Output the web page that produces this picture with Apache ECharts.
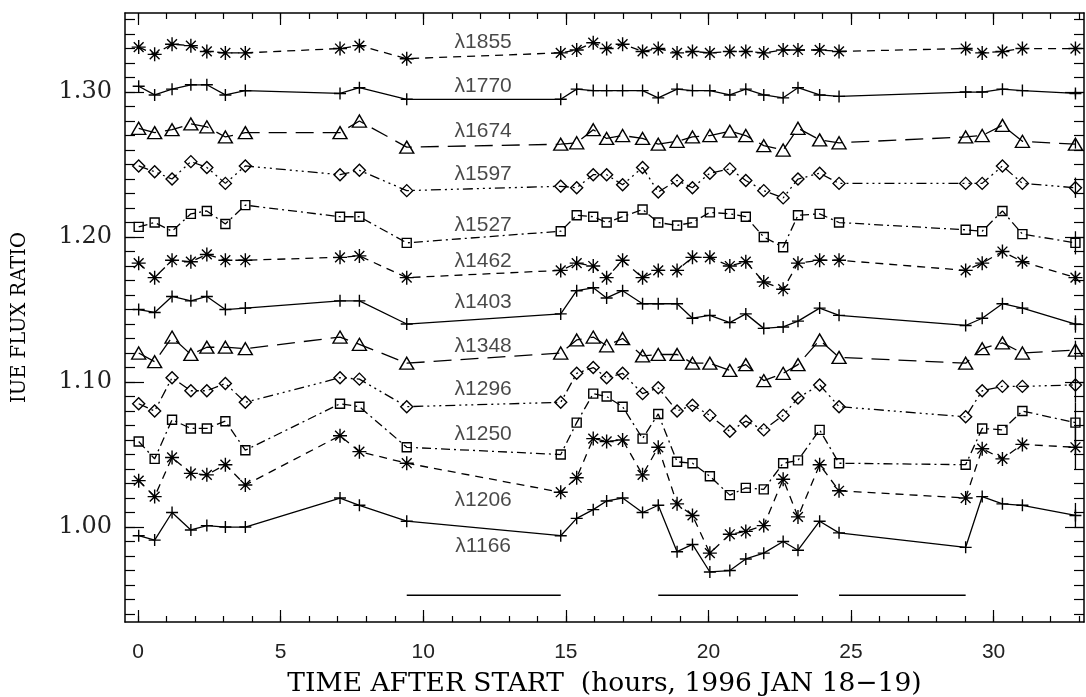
<!DOCTYPE html>
<html>
<head>
<meta charset="utf-8">
<script src="https://cdn.jsdelivr.net/npm/echarts@6/dist/echarts.min.js"></script>
<style>
html,body{margin:0;padding:0;background:#fff;}
#chart{width:1086px;height:697px;}
</style>
</head>
<body>
<div id="chart"></div>
<script>
// ---- DATA ----
const times = [0.02, 0.58, 1.19, 1.85, 2.41, 3.06, 3.76, 7.08, 7.76, 9.42,
  14.82, 15.38, 15.96, 16.43, 16.99, 17.69, 18.24, 18.90, 19.44, 20.05, 20.75, 21.31, 21.94,
  22.62, 23.14, 23.90, 24.58, 29.02, 29.60, 30.31, 31.01, 32.87];

const f1855 = [1.331, 1.326, 1.333, 1.332, 1.328, 1.327, 1.327, 1.330, 1.332, 1.323, 1.327, 1.329, 1.334, 1.330, 1.333, 1.328, 1.330, 1.327, 1.328, 1.327, 1.328, 1.328, 1.327, 1.329, 1.329, 1.329, 1.328, 1.330, 1.327, 1.328, 1.330, 1.330];
const f1770 = [1.304, 1.298, 1.302, 1.305, 1.305, 1.298, 1.301, 1.299, 1.303, 1.295, 1.295, 1.302, 1.301, 1.301, 1.301, 1.301, 1.296, 1.302, 1.301, 1.301, 1.298, 1.302, 1.298, 1.296, 1.303, 1.298, 1.297, 1.300, 1.300, 1.302, 1.301, 1.299];
const f1674 = [1.275, 1.272, 1.274, 1.278, 1.276, 1.269, 1.272, 1.272, 1.280, 1.262, 1.264, 1.265, 1.274, 1.268, 1.270, 1.268, 1.264, 1.266, 1.269, 1.270, 1.273, 1.270, 1.263, 1.260, 1.275, 1.267, 1.265, 1.269, 1.270, 1.277, 1.266, 1.264];
const f1597 = [1.249, 1.245, 1.240, 1.252, 1.248, 1.237, 1.249, 1.243, 1.246, 1.232, 1.235, 1.234, 1.243, 1.243, 1.236, 1.248, 1.231, 1.239, 1.234, 1.244, 1.247, 1.239, 1.232, 1.227, 1.240, 1.244, 1.237, 1.237, 1.237, 1.249, 1.237, 1.234];
const f1527 = [1.207, 1.210, 1.204, 1.216, 1.218, 1.209, 1.222, 1.214, 1.214, 1.196, 1.204, 1.215, 1.214, 1.210, 1.214, 1.219, 1.210, 1.208, 1.210, 1.217, 1.216, 1.214, 1.200, 1.193, 1.215, 1.216, 1.210, 1.205, 1.204, 1.218, 1.202, 1.196];
const f1462 = [1.182, 1.172, 1.184, 1.183, 1.188, 1.184, 1.184, 1.186, 1.187, 1.172, 1.177, 1.182, 1.180, 1.172, 1.184, 1.172, 1.177, 1.177, 1.186, 1.186, 1.180, 1.183, 1.169, 1.164, 1.182, 1.184, 1.184, 1.177, 1.182, 1.190, 1.183, 1.172];
const f1403 = [1.150, 1.148, 1.159, 1.156, 1.159, 1.150, 1.151, 1.156, 1.156, 1.140, 1.147, 1.163, 1.165, 1.158, 1.163, 1.154, 1.154, 1.154, 1.144, 1.146, 1.141, 1.147, 1.137, 1.138, 1.142, 1.151, 1.146, 1.139, 1.144, 1.154, 1.151, 1.140];
const f1348 = [1.120, 1.114, 1.131, 1.119, 1.124, 1.124, 1.123, 1.131, 1.126, 1.113, 1.120, 1.129, 1.131, 1.125, 1.130, 1.118, 1.119, 1.119, 1.113, 1.113, 1.108, 1.112, 1.101, 1.106, 1.112, 1.129, 1.117, 1.113, 1.123, 1.127, 1.120, 1.122];
const f1296 = [1.085, 1.080, 1.103, 1.094, 1.094, 1.099, 1.086, 1.103, 1.102, 1.083, 1.086, 1.106, 1.110, 1.103, 1.106, 1.092, 1.096, 1.080, 1.084, 1.077, 1.066, 1.073, 1.067, 1.077, 1.089, 1.098, 1.083, 1.076, 1.094, 1.097, 1.097, 1.098];
const f1250 = [1.059, 1.047, 1.074, 1.068, 1.068, 1.073, 1.053, 1.085, 1.083, 1.055, 1.050, 1.072, 1.092, 1.090, 1.083, 1.061, 1.078, 1.045, 1.044, 1.035, 1.022, 1.027, 1.026, 1.044, 1.046, 1.067, 1.044, 1.043, 1.068, 1.067, 1.080, 1.072];
const f1206 = [1.032, 1.021, 1.048, 1.037, 1.036, 1.043, 1.029, 1.063, 1.052, 1.044, 1.024, 1.034, 1.061, 1.059, 1.060, 1.036, 1.055, 1.016, 1.008, 0.982, 0.995, 0.997, 1.001, 1.033, 1.007, 1.043, 1.025, 1.020, 1.054, 1.047, 1.057, 1.055];
const f1166 = [0.994, 0.991, 1.010, 0.998, 1.001, 1.000, 1.000, 1.020, 1.015, 1.004, 0.994, 1.006, 1.012, 1.018, 1.020, 1.010, 1.015, 0.983, 0.988, 0.969, 0.970, 0.978, 0.982, 0.990, 0.984, 1.004, 0.996, 0.986, 1.021, 1.016, 1.015, 1.008];

const lineNames = ['λ1855','λ1770','λ1674','λ1597','λ1527','λ1462','λ1403','λ1348','λ1296','λ1250','λ1206','λ1166'];
// typical error (half-length of the bar drawn on the last point)
const lastErrors = [0.002, 0.002, 0.003, 0.007, 0.008, 0.004, 0.006, 0.0065, 0.012, 0.014, 0.015, 0.0086];
// where each wavelength label is written (time, flux ratio)
const labelTime = 12.1;
const labelLevels = [1.3343, 1.3041, 1.2731, 1.2434, 1.2081, 1.1834, 1.1548, 1.1248, 1.0950, 1.0639, 1.0184, 0.9869];
// observation-gap segments drawn near the bottom
const gapSegments = [[9.42, 14.82], [18.24, 23.14], [24.58, 29.02]];
const gapLevel = 0.9529;

const xMajorTicks = [0, 5, 10, 15, 20, 25, 30];
const yMajorTicks = [1.00, 1.10, 1.20, 1.30];

// ---- STYLES ----
const fluxes = [f1855, f1770, f1674, f1597, f1527, f1462, f1403, f1348, f1296, f1250, f1206, f1166];
const SYM_PLUS = 'path://M5,0L5,10M0,5L10,5';
const SYM_AST = 'path://M5,0L5,10M0,5L10,5M1.5,1.5L8.5,8.5M8.5,1.5L1.5,8.5';
const DASH = [8, 6], LONG = [18, 9], DASHDOT = [9, 4, 2, 4], DASH3DOT = [10, 4, 2, 4, 2, 4, 2, 4];
const styles = [
  {sym: SYM_AST, size: 14, dash: DASH},
  {sym: SYM_PLUS, size: 12, dash: 'solid'},
  {sym: 'triangle', size: [14, 12], dash: LONG},
  {sym: 'diamond', size: 12, dash: DASH3DOT},
  {sym: 'rect', size: 9, dash: DASHDOT},
  {sym: SYM_AST, size: 14, dash: DASH},
  {sym: SYM_PLUS, size: 12, dash: 'solid'},
  {sym: 'triangle', size: [14, 12], dash: LONG},
  {sym: 'diamond', size: 12, dash: DASH3DOT},
  {sym: 'rect', size: 9, dash: DASHDOT},
  {sym: SYM_AST, size: 14, dash: DASH},
  {sym: SYM_PLUS, size: 12, dash: 'solid'}
];

const X_MIN = -0.46, X_MAX = 33.17, Y_MIN = 0.9345, Y_MAX = 1.3545;
const xMinorTicks = []; for (let i = 0; i <= 33; i++) xMinorTicks.push(i);
const yMinorTicks = []; for (let i = 94; i <= 135; i++) yMinorTicks.push(+(i / 100).toFixed(2));

const series = [];
fluxes.forEach((arr, k) => {
  const st = styles[k];
  series.push({
    type: 'line', name: lineNames[k], xAxisIndex: 0, yAxisIndex: 0,
    data: times.map((t, i) => [t, arr[i]]),
    symbol: st.sym, symbolSize: st.size, showAllSymbol: true,
    itemStyle: {color: 'rgba(0,0,0,0)', borderColor: '#000', borderWidth: 1.4},
    lineStyle: {color: '#000', width: 1.3, type: st.dash},
    silent: true, z: 3
  });
});

// wavelength labels
series.push({
  type: 'scatter', xAxisIndex: 0, yAxisIndex: 0, symbolSize: 0, silent: true, z: 5,
  data: lineNames.map((n, k) => ({name: n, value: [labelTime, labelLevels[k]]})),
  label: {show: true, position: 'inside', formatter: p => p.name,
    fontFamily: 'Liberation Sans', fontSize: 21, color: '#1a1a1a'}
});

// error bars on the last point of each series
series.push({
  type: 'custom', xAxisIndex: 0, yAxisIndex: 0, silent: true, z: 4,
  data: fluxes.map((arr, k) => [times[times.length - 1], arr[arr.length - 1], lastErrors[k]]),
  renderItem: function (params, api) {
    const x = api.value(0), y = api.value(1), e = api.value(2);
    const p1 = api.coord([x, y - e]), p2 = api.coord([x, y + e]);
    return {type: 'line', shape: {x1: p1[0], y1: p1[1], x2: p2[0], y2: p2[1]},
      style: {stroke: '#000', lineWidth: 1.3}};
  }
});

// gap segments
series.push({
  type: 'custom', xAxisIndex: 0, yAxisIndex: 0, silent: true, z: 4,
  data: gapSegments.map(s => [s[0], s[1], gapLevel]),
  renderItem: function (params, api) {
    const p1 = api.coord([api.value(0), api.value(2)]), p2 = api.coord([api.value(1), api.value(2)]);
    return {type: 'line', shape: {x1: p1[0], y1: p1[1], x2: p2[0], y2: p2[1]},
      style: {stroke: '#000', lineWidth: 1.4}};
  }
});

function xAx(pos, major, showLine, withLabel) {
  return {
    type: 'value', position: pos, min: X_MIN, max: X_MAX, gridIndex: 0,
    axisLine: {show: showLine, onZero: false, lineStyle: {color: '#000', width: 1.5}},
    axisTick: {show: true, inside: true, length: major ? 12 : 6, customValues: major ? xMajorTicks : xMinorTicks,
      lineStyle: {color: '#000', width: 1.2}},
    axisLabel: withLabel ? {show: true, customValues: xMajorTicks, margin: 20, fontFamily: 'Liberation Sans', fontSize: 21, color: '#222'} : {show: false},
    splitLine: {show: false},
    name: withLabel ? 'TIME AFTER START  (hours, 1996 JAN 18\u221219)' : '',
    nameLocation: 'middle', nameGap: 49,
    nameTextStyle: {fontFamily: 'DejaVu Serif', fontSize: 26.5, color: '#000'}
  };
}
function yAx(pos, major, showLine, withLabel) {
  return {
    type: 'value', position: pos, min: Y_MIN, max: Y_MAX, gridIndex: 0,
    axisLine: {show: showLine, onZero: false, lineStyle: {color: '#000', width: 1.5}},
    axisTick: {show: true, inside: true, length: major ? 19 : 10, customValues: major ? yMajorTicks : yMinorTicks,
      lineStyle: {color: '#000', width: 1.2}},
    axisLabel: withLabel ? {show: true, customValues: yMajorTicks, margin: 13, fontFamily: 'DejaVu Serif', fontSize: 24, color: '#222',
      formatter: v => v.toFixed(2)} : {show: false},
    splitLine: {show: false},
    name: withLabel ? 'IUE FLUX RATIO' : '',
    nameLocation: 'middle', nameGap: 95,
    nameTextStyle: {fontFamily: 'DejaVu Serif', fontSize: 19.5, color: '#000'}
  };
}

const chart = echarts.init(document.getElementById('chart'), null, {renderer: 'canvas'});
chart.setOption({
  animation: false,
  backgroundColor: '#fff',
  grid: {left: 125, right: 2, top: 13, bottom: 75, containLabel: false, outerBoundsMode: 'none'},
  xAxis: [xAx('bottom', true, true, true), xAx('bottom', false, false, false), xAx('top', true, true, false), xAx('top', false, false, false)],
  yAxis: [yAx('left', true, true, true), yAx('left', false, false, false), yAx('right', true, true, false), yAx('right', false, false, false)],
  series: series
});
</script>
</body>
</html>
